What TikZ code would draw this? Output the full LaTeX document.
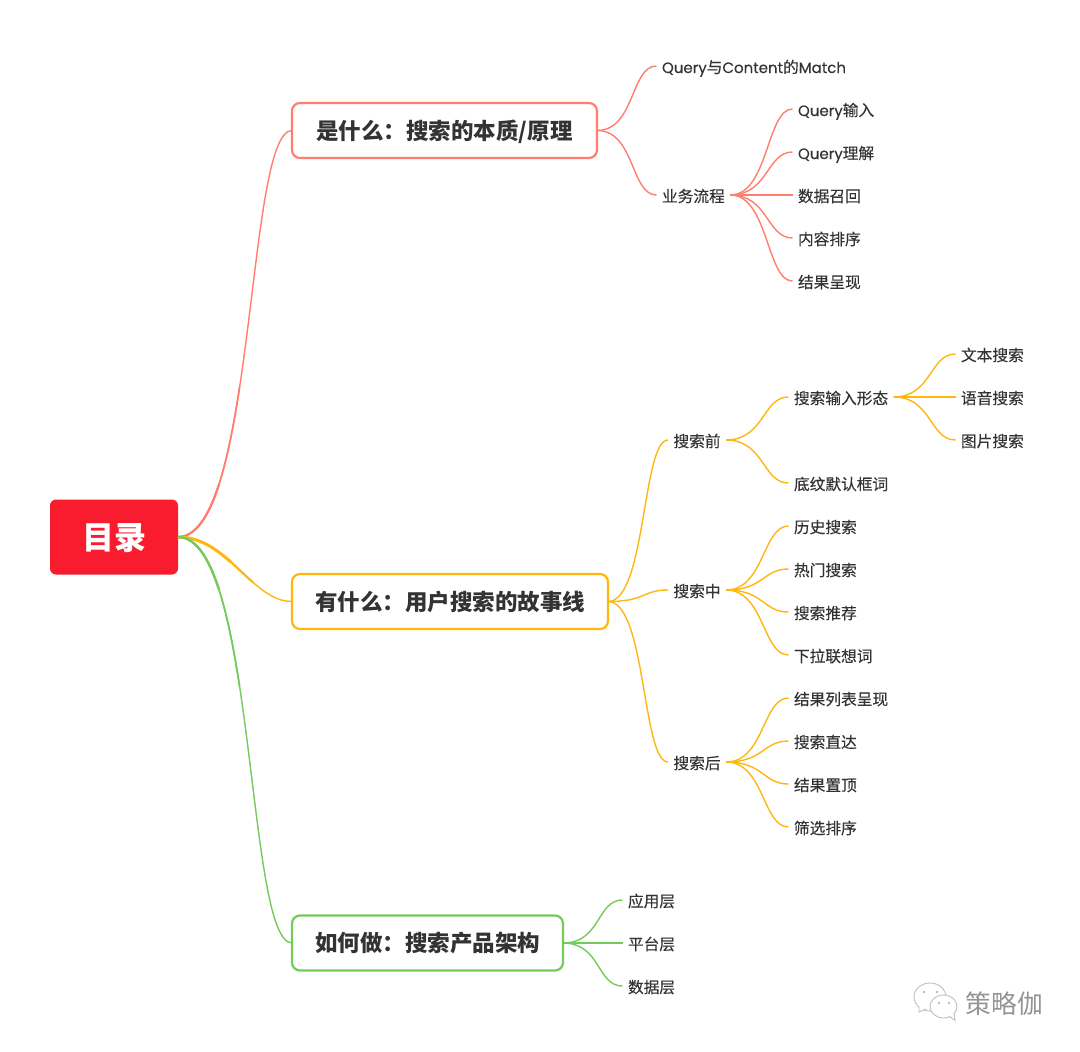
\documentclass[tikz,border=0pt]{standalone}
\usepackage{fontspec}
\setmainfont{Noto Sans CJK SC}
\newfontfamily\medfont[FakeBold=0.25]{Noto Sans CJK SC}
\newfontfamily\latinfont[FakeBold=0.2]{Poppins}
\newcommand{\lat}[1]{{\fontsize{15}{18}\latinfont #1}}
\usetikzlibrary{positioning}
\definecolor{rootred}{HTML}{F91C2E}
\definecolor{linered}{HTML}{FF7E6E}
\definecolor{lineyellow}{HTML}{FFB710}
\definecolor{linegreen}{HTML}{74CB5C}
\definecolor{labelgray}{HTML}{333333}
\tikzset{
	rootnode/.style={rectangle,fill=rootred,rounded corners=6pt,minimum width=128pt,minimum height=75pt,inner sep=0pt,outer sep=0pt,text height=30pt,text depth=5.7pt,text=white,font=\fontsize{32}{36}\selectfont\bfseries},
	topicbox/.style={rectangle,draw=#1,fill=white,line width=2.2pt,rounded corners=8pt,minimum height=55pt,inner sep=0pt,outer sep=0pt,text height=22pt,text depth=4.8pt,text=labelgray,font=\fontsize{22.5}{26}\selectfont\bfseries},
	leafnode/.style={anchor=west,yshift=1pt,inner xsep=5.5pt,inner ysep=0pt,outer sep=0pt,text height=17pt,text depth=3pt,text=labelgray,font=\fontsize{15.7}{18}\medfont},
	treeline/.style={line width=1.4pt,out=0,in=180,out distance=#1,in distance=0.68*#1},
	treeline/.default=38pt,
	redcurve/.style={out=0,in=180,out distance=78pt,in distance=46pt},
	yellowcurve/.style={out=0,in=180,out distance=50pt,in distance=40pt},
	mainline/.style={line width=1.4pt},
	boldpart/.style={line width=#1},
	partlen/.style={dash pattern=on #1 off 1500pt},
}
\begin{document}
\begin{tikzpicture}[x=1pt,y=-1pt]
	\useasboundingbox (0,0) rectangle (1080,1052);

	\node[rootnode] (Root) at (114,537) {目录};

	\node[topicbox=linered,minimum width=305pt] (What) at (444.5,130.5) {是什么：搜索的本质/原理};
	\node[topicbox=lineyellow,minimum width=316pt] (Have) at (450,601.5) {有什么：用户搜索的故事线};
	\node[topicbox=linegreen,minimum width=271pt] (How) at (427.5,943) {如何做：搜索产品架构};

	\node[leafnode] (Match) at (656.5,67) {\lat{Query}与\lat{Content}的\lat{Match}};
	\node[leafnode] (Flow) at (656.5,196) {业务流程};
	\node[leafnode] (Input) at (792.5,110) {\lat{Query}输入};
	\node[leafnode] (Parse) at (792.5,153) {\lat{Query}理解};
	\node[leafnode] (Recall) at (792.5,196) {数据召回};
	\node[leafnode] (Rank) at (792.5,239) {内容排序};
	\node[leafnode] (Show) at (792.5,282) {结果呈现};

	\node[leafnode] (Before) at (668,441) {搜索前};
	\node[leafnode] (During) at (668,591) {搜索中};
	\node[leafnode] (After) at (668,763) {搜索后};

	\node[leafnode] (Form) at (788.5,398) {搜索输入形态};
	\node[leafnode] (Hint) at (788.5,484) {底纹默认框词};
	\node[leafnode] (Text) at (955.5,355) {文本搜索};
	\node[leafnode] (Voice) at (955.5,398) {语音搜索};
	\node[leafnode] (Image) at (955.5,441) {图片搜索};

	\node[leafnode] (History) at (788.5,527) {历史搜索};
	\node[leafnode] (Hot) at (788.5,570) {热门搜索};
	\node[leafnode] (Suggest) at (788.5,613) {搜索推荐};
	\node[leafnode] (Assoc) at (788.5,656) {下拉联想词};

	\node[leafnode] (List) at (788.5,699) {结果列表呈现};
	\node[leafnode] (Direct) at (788.5,742) {搜索直达};
	\node[leafnode] (Top) at (788.5,785) {结果置顶};
	\node[leafnode] (Filter) at (788.5,828) {筛选排序};

	\node[leafnode] (App) at (622.5,901) {应用层};
	\node[leafnode] (Platform) at (622.5,944) {平台层};
	\node[leafnode] (Data) at (622.5,987) {数据层};

	\draw[linered,redcurve,mainline] (Root.east) to (What.west);
	\draw[linered,redcurve,boldpart=1.7pt,partlen=170pt] (Root.east) to (What.west);
	\draw[linered,redcurve,boldpart=2.2pt,partlen=70pt] (Root.east) to (What.west);

	\draw[lineyellow,yellowcurve,mainline] (Root.east) to (Have.west);
	\draw[lineyellow,yellowcurve,boldpart=2.2pt,partlen=90pt] (Root.east) to (Have.west);
	\draw[lineyellow,yellowcurve,boldpart=3pt,partlen=60pt] (Root.east) to (Have.west);

	\draw[linegreen,redcurve,mainline] (Root.east) to (How.west);
	\draw[linegreen,redcurve,boldpart=1.7pt,partlen=170pt] (Root.east) to (How.west);
	\draw[linegreen,redcurve,boldpart=2.4pt,partlen=70pt] (Root.east) to (How.west);

	\draw[linered,treeline] (What.east) to (Match.west);
	\draw[linered,treeline] (What.east) to (Flow.west);
	\draw[linered,treeline] (Flow.east) to (Input.west);
	\draw[linered,treeline] (Flow.east) to (Parse.west);
	\draw[linered,treeline] (Flow.east) to (Recall.west);
	\draw[linered,treeline] (Flow.east) to (Rank.west);
	\draw[linered,treeline] (Flow.east) to (Show.west);

	\draw[lineyellow,treeline] (Have.east) to (Before.west);
	\draw[lineyellow,treeline] (Have.east) to (During.west);
	\draw[lineyellow,treeline] (Have.east) to (After.west);

	\draw[lineyellow,treeline] (Before.east) to (Form.west);
	\draw[lineyellow,treeline] (Before.east) to (Hint.west);
	\draw[lineyellow,treeline] (Form.east) to (Text.west);
	\draw[lineyellow,treeline] (Form.east) to (Voice.west);
	\draw[lineyellow,treeline] (Form.east) to (Image.west);

	\draw[lineyellow,treeline] (During.east) to (History.west);
	\draw[lineyellow,treeline] (During.east) to (Hot.west);
	\draw[lineyellow,treeline] (During.east) to (Suggest.west);
	\draw[lineyellow,treeline] (During.east) to (Assoc.west);

	\draw[lineyellow,treeline] (After.east) to (List.west);
	\draw[lineyellow,treeline] (After.east) to (Direct.west);
	\draw[lineyellow,treeline] (After.east) to (Top.west);
	\draw[lineyellow,treeline] (After.east) to (Filter.west);

	\draw[linegreen,treeline] (How.east) to (App.west);
	\draw[linegreen,treeline] (How.east) to (Platform.west);
	\draw[linegreen,treeline] (How.east) to (Data.west);

	% watermark
	\draw[black!25,fill=white,line width=0.9pt] (930,997) ellipse (16pt and 14pt);
	\draw[black!25,fill=white,line width=0.9pt] (919,1006) -- (919,1012) -- (926,1009);
	\draw[black!25,fill=white,line width=0.9pt] (943.5,1006.5) ellipse (13.5pt and 11.5pt);
	\draw[black!25,fill=white,line width=0.9pt] (949,1016) -- (955,1020.5) -- (954,1013);
	\fill[black!35] (924,992) circle (1.2pt) (937,992) circle (1.2pt) (939,1003) circle (1.2pt) (949,1003) circle (1.2pt);
	\node[text=black!42,font=\fontsize{25.7}{28}\selectfont,inner sep=0pt] (Mark) at (1004.5,1004) {策略伽};
\end{tikzpicture}
\end{document}
